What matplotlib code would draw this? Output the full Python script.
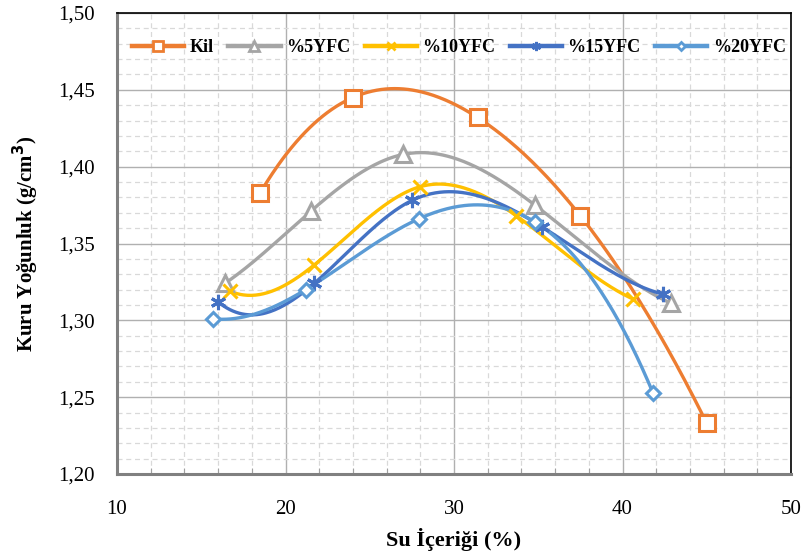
import numpy as np
import matplotlib
matplotlib.use('Agg')
import matplotlib.pyplot as plt
from matplotlib.ticker import MultipleLocator, FuncFormatter

series_names = ['Kil', '%5YFC', '%10YFC', '%15YFC', '%20YFC']
kil_x = [18.5, 24.0, 31.4, 37.5, 45.0]
kil_y = [1.383, 1.445, 1.432, 1.368, 1.233]
yfc5_x = [16.4, 21.5, 27.0, 34.8, 42.9]
yfc5_y = [1.324, 1.371, 1.408, 1.375, 1.311]
yfc10_x = [16.7, 21.7, 28.0, 33.7, 40.6]
yfc10_y = [1.319, 1.336, 1.387, 1.368, 1.314]
yfc15_x = [16.0, 21.7, 27.5, 35.2, 42.4]
yfc15_y = [1.312, 1.324, 1.378, 1.361, 1.317]
yfc20_x = [15.7, 21.2, 27.9, 34.8, 41.8]
yfc20_y = [1.301, 1.320, 1.366, 1.364, 1.253]

xs = [kil_x, yfc5_x, yfc10_x, yfc15_x, yfc20_x]
ys = [kil_y, yfc5_y, yfc10_y, yfc15_y, yfc20_y]
colors = ['#ED7D31', '#A5A5A5', '#FFC000', '#4472C4', '#5B9BD5']
markers = ['s', '^', 'x', (6, 2, 0), 'D']
msizes = [11, 11, 10, 11, 7.5]


def notaknot(x, y, n=300):
    x = np.asarray(x, float); y = np.asarray(y, float)
    m = len(x) - 1
    A = np.zeros((4 * m, 4 * m)); b = np.zeros(4 * m)
    r = 0
    h = np.diff(x)
    for i in range(m):
        A[r, 4 * i] = 1; b[r] = y[i]; r += 1
        A[r, 4 * i:4 * i + 4] = [1, h[i], h[i] ** 2, h[i] ** 3]; b[r] = y[i + 1]; r += 1
    for i in range(m - 1):
        A[r, 4 * i:4 * i + 4] = [0, 1, 2 * h[i], 3 * h[i] ** 2]; A[r, 4 * (i + 1) + 1] = -1; r += 1
        A[r, 4 * i:4 * i + 4] = [0, 0, 2, 6 * h[i]]; A[r, 4 * (i + 1) + 2] = -2; r += 1
    A[r, 3] = 1; A[r, 7] = -1; r += 1
    A[r, 4 * (m - 2) + 3] = 1; A[r, 4 * (m - 1) + 3] = -1; r += 1
    c = np.linalg.solve(A, b)
    xx = np.linspace(x[0], x[-1], n)
    idx = np.clip(np.searchsorted(x, xx, side='right') - 1, 0, m - 1)
    d = xx - x[idx]
    yy = c[4 * idx] + c[4 * idx + 1] * d + c[4 * idx + 2] * d ** 2 + c[4 * idx + 3] * d ** 3
    return xx, yy


plt.rcParams['font.family'] = ['Liberation Serif', 'DejaVu Serif']

fig = plt.figure(figsize=(8.05, 5.59), dpi=100)
ax = fig.add_axes([117 / 805, 1 - 474 / 559, (791 - 117) / 805, (474 - 13) / 559])
ax.set_xlim(10, 50)
ax.set_ylim(1.20, 1.50)

ax.xaxis.set_major_locator(MultipleLocator(10))
ax.xaxis.set_minor_locator(MultipleLocator(2))
ax.yaxis.set_major_locator(MultipleLocator(0.05))
ax.yaxis.set_minor_locator(MultipleLocator(0.01))
ax.grid(True, which='major', color='#b0b0b0', lw=1.0, ls='-')
ax.grid(True, which='minor', color='#d9d9d9', lw=0.9, ls=(0, (4, 3)))
ax.set_axisbelow(True)
ax.yaxis.set_major_formatter(FuncFormatter(lambda v, p: f'{v:.2f}'.replace('.', ',')))
ax.tick_params(axis='both', which='major', length=0, labelsize=15, pad=16)
ax.tick_params(axis='x', which='major', pad=19)
ax.tick_params(axis='x', which='minor', length=4, direction='in', color='#a0a0a0', width=0.8)
ax.tick_params(axis='y', which='minor', length=0)

for s in ['left', 'bottom']:
    ax.spines[s].set_color('#808080'); ax.spines[s].set_linewidth(2.2)
for s in ['top', 'right']:
    ax.spines[s].set_color('#000000'); ax.spines[s].set_linewidth(1.2)

for name, x, y, c, mk, ms in zip(series_names, xs, ys, colors, markers, msizes):
    xx, yy = notaknot(x, y)
    fill = c if mk in ('x', (6, 2, 0)) else 'white'
    ax.plot(xx, yy, color=c, lw=2.4, zorder=3)
    ax.plot(x, y, ls='none', marker=mk, ms=ms, mec=c, mfc=fill, mew=2.2, zorder=4)
    ax.plot([], [], color=c, lw=3.2, marker=mk, ms=ms * 0.6, mec=c, mfc=fill, mew=2.0, label=name)

ax.legend(loc='center left', bbox_to_anchor=(0.022, 0.925), ncol=5, frameon=False,
          prop={'weight': 'bold', 'size': 13}, handlelength=2.9, handletextpad=0.3,
          columnspacing=0.8, borderpad=0, borderaxespad=0)

ax.set_xlabel('Su İçeriği (%)', fontsize=16, fontweight='bold', labelpad=6)
ax.set_ylabel('Kuru Yoğunluk (g/cm$^\\mathbf{3}$)', fontsize=15, fontweight='bold', labelpad=12)

fig.savefig('out.png', dpi=100)
